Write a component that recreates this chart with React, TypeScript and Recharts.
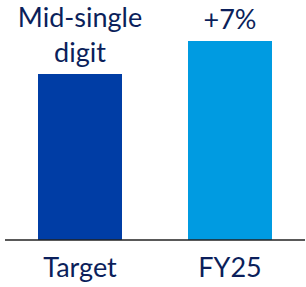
import { BarChart, Bar, XAxis, YAxis, Cell, LabelList } from "recharts";

const categorias = ["Target", "FY25"];
const valores = [5.84, 7];
const rotulos = [["Mid-single", "digit"], ["+7%"]];
const cores = ["#003DA5", "#009BE1"];

const TEXTO = "#0B1F5B";
const FONTE = "Lato, 'Open Sans', sans-serif";

const dados = categorias.map((cat, i) => ({ cat, valor: valores[i], idx: i }));

function RotuloBarra(props: any) {
  const { x, y, width, index } = props;
  const linhas = rotulos[index] || [];
  const cx = x + width / 2;
  return (
    <g>
      {linhas.map((l, i) => (
        <text
          key={i}
          x={cx}
          y={y - 12 - (linhas.length - 1 - i) * 35}
          textAnchor="middle"
          fill={TEXTO}
          fontSize={27}
          fontFamily={FONTE}
        >
          {l}
        </text>
      ))}
    </g>
  );
}

function TickCategoria(props: any) {
  const { x, y, payload } = props;
  return (
    <text x={x} y={y + 29} textAnchor="middle" fill={TEXTO} fontSize={27} fontFamily={FONTE}>
      {payload.value}
    </text>
  );
}

export default function App() {
  return (
    <div style={{ position: "absolute", left: 0, top: 0, width: 306, height: 287, background: "#fff" }}>
      <BarChart
        width={306}
        height={287}
        data={dados}
        margin={{ top: 41, right: 1, left: 5, bottom: 0 }}
        barCategoryGap="22%"
      >
        <YAxis hide domain={[0, 7]} />
        <XAxis
          dataKey="cat"
          height={47}
          axisLine={{ stroke: "#222", strokeWidth: 1.5 }}
          tickLine={false}
          tick={<TickCategoria />}
          interval={0}
        />
        <Bar dataKey="valor" isAnimationActive={false}>
          {dados.map((d, i) => (
            <Cell key={d.cat} fill={cores[i]} />
          ))}
          <LabelList dataKey="valor" content={<RotuloBarra />} />
        </Bar>
      </BarChart>
    </div>
  );
}
